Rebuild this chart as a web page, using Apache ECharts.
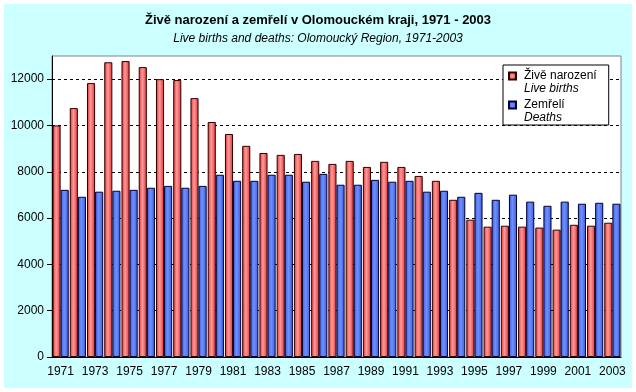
<!DOCTYPE html>
<html>
<head>
<meta charset="utf-8">
<script src="https://cdn.jsdelivr.net/npm/echarts@6/dist/echarts.min.js"></script>
<style>html,body{margin:0;padding:0;background:#fff;}#c{width:636px;height:392px;}</style>
</head>
<body>
<div id="c"></div>
<script>
var years = ['1971','1972','1973','1974','1975','1976','1977','1978','1979','1980','1981','1982','1983','1984','1985','1986','1987','1988','1989','1990','1991','1992','1993','1994','1995','1996','1997','1998','1999','2000','2001','2002','2003'];
var births = [10000,10750,11830,12730,12780,12520,12000,11960,11180,10150,9630,9120,8810,8730,8770,8470,8340,8470,8210,8430,8210,7820,7610,6790,5930,5630,5670,5630,5590,5500,5710,5670,5800];
var deaths = [7220,6920,7140,7180,7220,7310,7390,7310,7390,7870,7610,7610,7870,7870,7570,7910,7440,7440,7650,7570,7610,7140,7180,6920,7090,6790,7010,6710,6530,6710,6620,6660,6620];
var yTicks = [0,2000,4000,6000,8000,10000,12000];
var titleCz = 'Živě narození a zemřelí v Olomouckém kraji, 1971 - 2003';
var titleEn = 'Live births and deaths: Olomoucký Region, 1971-2003';
var nameBirthsCz = 'Živě narození', nameBirthsEn = 'Live births';
var nameDeathsCz = 'Zemřelí', nameDeathsEn = 'Deaths';

function grad(edge, mid) {
  return new echarts.graphic.LinearGradient(0, 0, 1, 0, [
    {offset: 0, color: edge}, {offset: 0.45, color: mid}, {offset: 1, color: edge}
  ]);
}
var font = '"Liberation Sans", Arial, sans-serif';
var chart = echarts.init(document.getElementById('c'), null, {renderer: 'canvas'});
chart.setOption({
  animation: false,
  backgroundColor: '#ffffff',
  textStyle: {fontFamily: font},
  graphic: [
    {type: 'rect', z: -100, silent: true, shape: {x: 4, y: 4, width: 628, height: 384}, style: {fill: '#ccffff'}},
    {type: 'text', z: 100, left: 524, top: 83, style: {text: nameBirthsEn, font: 'italic 12px ' + font, fill: '#000'}},
    {type: 'text', z: 100, left: 524, top: 112, style: {text: nameDeathsEn, font: 'italic 12px ' + font, fill: '#000'}}
  ],
  title: {
    text: titleCz, subtext: titleEn, left: 'center', top: 9, itemGap: 6,
    textStyle: {fontFamily: font, fontSize: 13, fontWeight: 'bold', color: '#000'},
    subtextStyle: {fontFamily: font, fontSize: 12, fontStyle: 'italic', color: '#000'}
  },
  legend: {
    orient: 'vertical', left: 503, top: 65,
    backgroundColor: '#fff', borderColor: '#000', borderWidth: 1,
    padding: [5, 12, 14, 5], itemGap: 17, itemWidth: 7, itemHeight: 7,
    icon: 'rect',
    textStyle: {fontFamily: font, fontSize: 12, color: '#000', padding: [0, 0, 0, 3]},
    data: [nameBirthsCz, nameDeathsCz]
  },
  grid: {left: 52, right: 15, top: 56, bottom: 35, show: true, backgroundColor: '#fff', borderColor: '#808080', borderWidth: 1},
  xAxis: {
    type: 'category', data: years,
    axisLine: {lineStyle: {color: '#000'}},
    axisTick: {interval: 0, length: 5, lineStyle: {color: '#000'}},
    axisLabel: {interval: 1, color: '#000', fontSize: 12, fontFamily: font, margin: 9}
  },
  yAxis: {
    type: 'value', min: yTicks[0], max: 13000, interval: 2000,
    axisLine: {show: true, lineStyle: {color: '#000'}},
    axisTick: {show: true, length: 5, lineStyle: {color: '#000'}},
    axisLabel: {color: '#000', fontSize: 12, fontFamily: font, margin: 8, showMaxLabel: false,
      formatter: function (v) { return String(v); }},
    splitLine: {show: true, showMaxLine: false, lineStyle: {color: '#000', type: [3, 3], width: 1}}
  },
  series: [
    {name: nameBirthsCz, type: 'bar', data: births, barGap: '0%', barCategoryGap: '6%',
     itemStyle: {color: grad('#e03030', '#ff9a9a'), borderColor: '#300000', borderWidth: 1}},
    {name: nameDeathsCz, type: 'bar', data: deaths, barGap: '0%', barCategoryGap: '6%',
     itemStyle: {color: grad('#3a5ae0', '#6f90ff'), borderColor: '#000030', borderWidth: 1}}
  ]
});
</script>
</body>
</html>
